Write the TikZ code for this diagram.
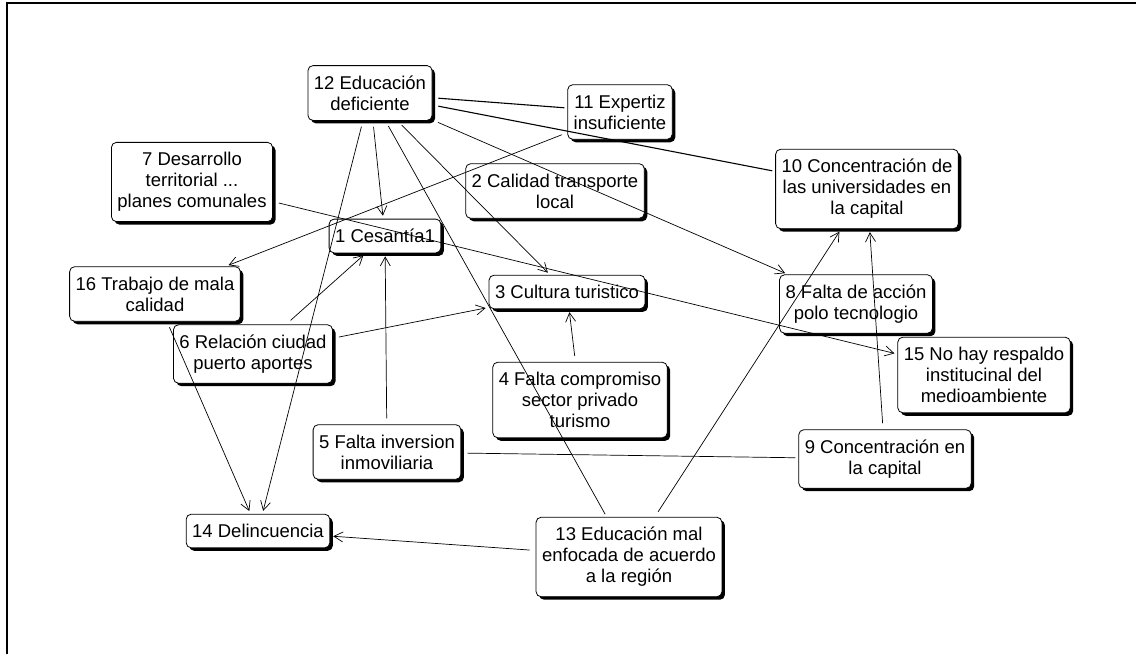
\documentclass[tikz,border=0pt]{standalone}
\usepackage{fontspec}
\setmainfont{Liberation Sans}
\usetikzlibrary{arrows.meta,shadows}

\tikzset{
  caja/.style={draw, fill=white, rounded corners=5pt, align=center, line width=0.8pt,
    inner xsep=6pt, inner ysep=10pt, font=\fontsize{18.5}{21}\selectfont,
    drop shadow={fill=black, opacity=1, shadow xshift=3pt, shadow yshift=-3pt}},
  flecha/.style={-{Straight Barb[length=9pt,width=10pt]}, line width=0.7pt,
    shorten <=6pt, shorten >=3pt},
  linea/.style={line width=0.7pt, shorten <=6pt, shorten >=3pt}
}

\begin{document}
\begin{tikzpicture}[x=1pt,y=-1pt]
    \useasboundingbox (0,0) rectangle (1136,654);
    \draw[line width=2.5pt] (7,654)--(7,3)--(1136,3);
    % problemas
    \node[caja] (n12) at (370,93)  {12 Educación\\deficiente};
    \node[caja] (n11) at (620,112) {11 Expertiz\\insuficiente};
    \node[caja] (n7)  at (192,182) {7 Desarrollo\\territorial ...\\planes comunales};
    \node[caja] (n2)  at (555,191) {2 Calidad transporte\\local};
    \node[caja] (n10) at (867,189) {10 Concentración de\\las universidades en\\la capital};
    \node[caja] (n1)  at (385,236) {1 Cesantía1};
    \node[caja] (n16) at (155,294) {16 Trabajo de mala\\calidad};
    \node[caja] (n3)  at (567,292) {3 Cultura turistico};
    \node[caja] (n8)  at (856,304) {8 Falta de acción\\polo tecnologio};
    \node[caja] (n6)  at (253,354) {6 Relación ciudad\\puerto aportes};
    \node[caja] (n15) at (984,375) {15 No hay respaldo\\institucinal del\\medioambiente};
    \node[caja] (n4)  at (580,400) {4 Falta compromiso\\sector privado\\turismo};
    \node[caja] (n5)  at (387,452) {5 Falta inversion\\inmoviliaria};
    \node[caja] (n9)  at (885,459) {9 Concentración en\\la capital};
    \node[caja] (n14) at (258,531) {14 Delincuencia};
    \node[caja] (n13) at (629,557) {13 Educación mal\\enfocada de acuerdo\\a la región};
    % relaciones
    \draw[flecha] (n12)--(n1);
    \draw[flecha] (n12)--(n14);
    \draw[flecha] (n12)--(n3);
    \draw[flecha] (n12)--(n8);
    \draw[linea] (n12)--(n13);
    \draw[linea,line width=1.1pt] (n12)--(n10);
    \draw[linea,line width=1.1pt] (n12)--(n11);
    \draw[flecha] (n11)--(n16);
    \draw[flecha] (n16)--(n14);
    \draw[flecha] (n7)--(n15);
    \draw[flecha] (n6)--(n1);
    \draw[flecha] (n6)--(n3);
    \draw[flecha] (n5)--(n1);
    \draw[flecha] (n4)--(n3);
    \draw[linea] (n5)--(n9);
    \draw[flecha] (n13)--(n10);
    \draw[flecha] (n9)--(n10);
    \draw[flecha] (n13)--(n14);
\end{tikzpicture}
\end{document}
